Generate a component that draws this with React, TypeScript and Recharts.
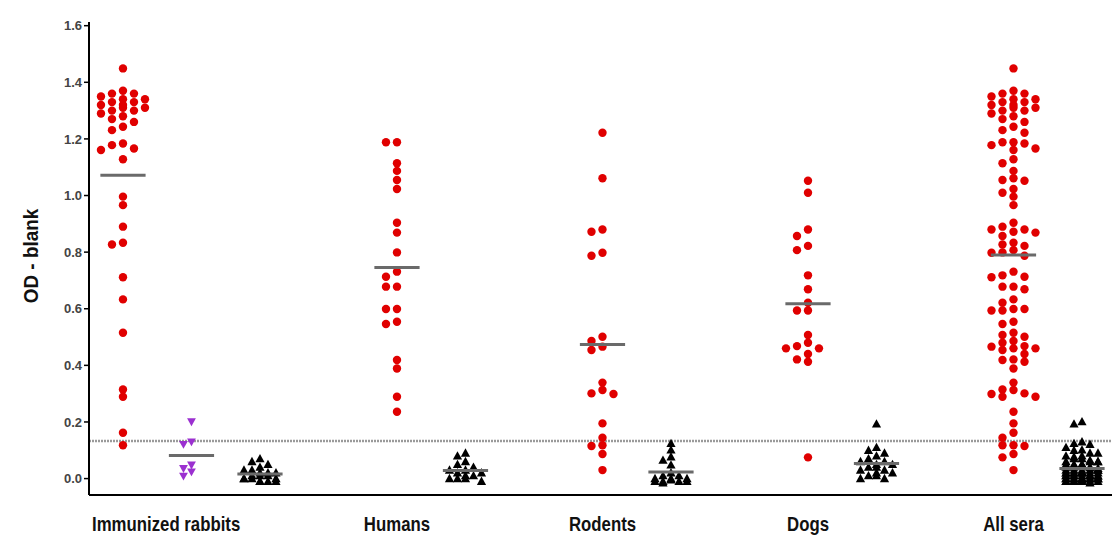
import { Label, ReferenceLine, Scatter, ScatterChart, XAxis, YAxis } from "recharts"

const categories = ["Immunized rabbits", "Humans", "Rodents", "Dogs", "All sera"]
const categoryTicks = [0.63, 4, 7, 10, 13]
const yTicks = [0, 0.2, 0.4, 0.6, 0.8, 1.0, 1.2, 1.4, 1.6]
const cutoff = 0.133

// OD - blank
const rabbitsPos = [
  1.449, 1.37, 1.36, 1.36, 1.35, 1.34, 1.34, 1.33, 1.33, 1.32, 1.32, 1.31, 1.31, 1.3, 1.3, 1.29, 1.28, 1.27,
  1.26, 1.243, 1.231, 1.184, 1.178, 1.166, 1.161, 1.128, 0.996, 0.966, 0.89, 0.833, 0.827, 0.711, 0.633,
  0.515, 0.315, 0.289, 0.162, 0.118,
]
const rabbitsPre = [0.201, 0.13, 0.121, 0.048, 0.036, 0.024, 0.009]
const rabbitsNeg = [
  0.07, 0.06, 0.05, 0.04, 0.03, 0.03, 0.02, 0.02, 0.02, 0.01, 0.01, 0.01, 0.0, 0.0, 0.0, 0.0, -0.01, -0.01,
  -0.01, -0.01,
]
const humansPos = [
  1.188, 1.188, 1.114, 1.087, 1.055, 1.023, 0.904, 0.869, 0.799, 0.731, 0.713, 0.678, 0.678, 0.599, 0.599,
  0.554, 0.546, 0.419, 0.389, 0.289, 0.236,
]
const humansNeg = [0.09, 0.08, 0.06, 0.05, 0.04, 0.03, 0.03, 0.02, 0.02, 0.01, 0.01, 0.0, 0.0, 0.0, -0.01]
const rodentsPos = [
  1.222, 1.061, 0.88, 0.872, 0.798, 0.787, 0.501, 0.486, 0.466, 0.454, 0.339, 0.313, 0.301, 0.299, 0.195,
  0.144, 0.118, 0.115, 0.087, 0.03,
]
const rodentsNeg = [
  0.124, 0.101, 0.077, 0.065, 0.048, 0.02, 0.01, 0.01, 0.0, 0.0, 0.0, -0.005, -0.01, -0.01, -0.01, -0.01,
  -0.015,
]
const dogsPos = [
  1.052, 1.01, 0.88, 0.857, 0.822, 0.807, 0.718, 0.669, 0.621, 0.594, 0.594, 0.507, 0.48, 0.468, 0.46, 0.46,
  0.44, 0.421, 0.413, 0.075,
]
const dogsNeg = [
  0.193, 0.11, 0.1, 0.09, 0.08, 0.07, 0.06, 0.06, 0.05, 0.05, 0.04, 0.04, 0.03, 0.03, 0.02, 0.02, 0.01, 0.01,
  0.0, 0.0,
]
const allPos = [...rabbitsPos, ...humansPos, ...rodentsPos, ...dogsPos]
const allNeg = [...rabbitsPre, ...rabbitsNeg, ...humansNeg, ...rodentsNeg, ...dogsNeg]

const W = 1112
const H = 540
const TOP = 22
const X_AXIS_H = 45
const Y_AXIS_W = 89
const Y_DOMAIN = [-0.058, 1.613]
const X_DOMAIN = [-0.496, 14.438]
const PX_PER_UNIT = (H - TOP - X_AXIS_H) / (Y_DOMAIN[1] - Y_DOMAIN[0])
const PX_PER_SLOT = (W - Y_AXIS_W) / (X_DOMAIN[1] - X_DOMAIN[0])

const RED = "#e00000"
const PURPLE = "#9b30d0"
const BLACK = "#000000"
const FONT = "'Liberation Sans', Arial, sans-serif"

// spread points sideways so that close values do not sit on top of each other
function swarm(values: number[], step: number, dist: number, maxK: number) {
  const order = values.map((_, i) => i).sort((a, b) => values[b] - values[a])
  const placed: { k: number; py: number }[] = []
  const dx = values.map(() => 0)
  for (const i of order) {
    const py = values[i] * PX_PER_UNIT
    let best = 0
    let bestCount = Infinity
    for (let j = 0; j <= 2 * maxK; j++) {
      const k = j === 0 ? 0 : j % 2 === 1 ? -Math.ceil(j / 2) : j / 2
      const count = placed.filter((p) => p.k === k && Math.abs(p.py - py) < dist).length
      if (count === 0) {
        best = k
        bestCount = 0
        break
      }
      if (count < bestCount) {
        best = k
        bestCount = count
      }
    }
    placed.push({ k: best, py })
    dx[i] = best * step
  }
  return dx
}

type Kind = "dot" | "down" | "up"

const columns: { slot: number; values: number[]; kind: Kind }[] = [
  { slot: 0, values: rabbitsPos, kind: "dot" },
  { slot: 1, values: rabbitsPre, kind: "down" },
  { slot: 2, values: rabbitsNeg, kind: "up" },
  { slot: 4, values: humansPos, kind: "dot" },
  { slot: 5, values: humansNeg, kind: "up" },
  { slot: 7, values: rodentsPos, kind: "dot" },
  { slot: 8, values: rodentsNeg, kind: "up" },
  { slot: 10, values: dogsPos, kind: "dot" },
  { slot: 11, values: dogsNeg, kind: "up" },
  { slot: 13, values: allPos, kind: "dot" },
  { slot: 14, values: allNeg, kind: "up" },
]

const series = columns.map((c) => {
  const dx = c.kind === "dot" ? swarm(c.values, 11, 7, 2) : swarm(c.values, 8, 6, 2)
  return {
    kind: c.kind,
    points: c.values.map((v, i) => ({ x: c.slot, y: v, dx: dx[i] })),
  }
})

const means = columns.map((c) => ({
  x: c.slot,
  y: c.values.reduce((s, v) => s + v, 0) / c.values.length,
}))

const dotShape = (props: any) => (
  <circle cx={props.cx + props.payload.dx} cy={props.cy} r={4.2} fill={RED} />
)

const upShape = (props: any) => {
  const x = props.cx + props.payload.dx
  const y = props.cy
  return <path d={`M${x},${y - 4.8} L${x + 4.6},${y + 3.6} L${x - 4.6},${y + 3.6} Z`} fill={BLACK} />
}

const downShape = (props: any) => {
  const x = props.cx + props.payload.dx
  const y = props.cy
  return <path d={`M${x},${y + 4.5} L${x + 4.4},${y - 3.4} L${x - 4.4},${y - 3.4} Z`} fill={PURPLE} />
}

const meanShape = (props: any) => {
  const half = 0.33 * PX_PER_SLOT
  return (
    <line x1={props.cx - half} x2={props.cx + half} y1={props.cy} y2={props.cy} stroke="#6a6a6a" strokeWidth={3} />
  )
}

const shapes = { dot: dotShape, up: upShape, down: downShape }

const XTick = (props: any) => {
  const i = categoryTicks.indexOf(props.payload.value)
  return (
    <text
      transform={`translate(${props.x},531) scale(0.84,1)`}
      textAnchor="middle"
      fontFamily={FONT}
      fontWeight="bold"
      fontSize={20}
      fill="#111"
    >
      {categories[i]}
    </text>
  )
}

export default function App() {
  return (
    <div style={{ position: "absolute", left: 0, top: 0, width: W, height: H, background: "#fff" }}>
      <ScatterChart width={W} height={H} margin={{ top: TOP, right: 0, bottom: 0, left: 0 }}>
        <XAxis
          type="number"
          dataKey="x"
          domain={X_DOMAIN}
          ticks={categoryTicks}
          interval={0}
          allowDataOverflow
          tick={<XTick />}
          tickLine={false}
          axisLine={{ stroke: "#000", strokeWidth: 2 }}
          height={X_AXIS_H}
        />
        <YAxis
          type="number"
          dataKey="y"
          domain={Y_DOMAIN}
          ticks={yTicks}
          interval={0}
          allowDataOverflow
          tickFormatter={(v: number) => v.toFixed(1)}
          width={Y_AXIS_W}
          tickSize={5}
          axisLine={{ stroke: "#000", strokeWidth: 2 }}
          tickLine={{ stroke: "#000", strokeWidth: 1.5 }}
          tick={{ fontSize: 13, fontWeight: "bold", fill: "#444", fontFamily: FONT }}
        >
          <Label
            content={() => (
              <text
                transform="translate(31,256) rotate(-90) scale(0.9,1)"
                textAnchor="middle"
                dominantBaseline="central"
                fontFamily={FONT}
                fontWeight="bold"
                fontSize={21}
                fill="#111"
              >
                OD - blank
              </text>
            )}
          />
        </YAxis>
        <ReferenceLine y={cutoff} stroke="#9a9a9a" strokeWidth={2.5} strokeDasharray="2 1" />
        {series.map((s, i) => (
          <Scatter key={i} data={s.points} shape={shapes[s.kind]} isAnimationActive={false} />
        ))}
        <Scatter data={means} shape={meanShape} isAnimationActive={false} />
      </ScatterChart>
    </div>
  )
}
